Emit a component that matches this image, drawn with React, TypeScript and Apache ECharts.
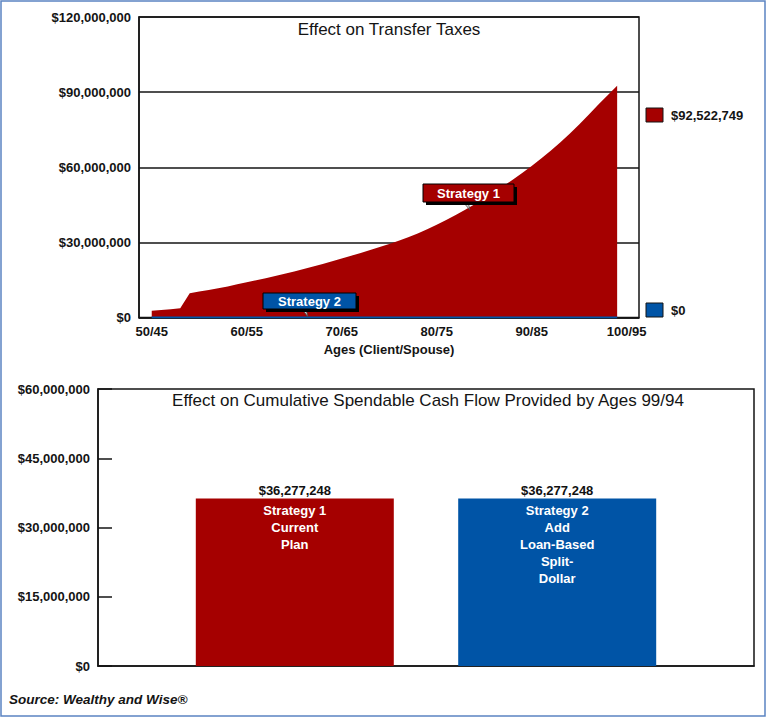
import React, { useEffect, useRef } from 'react';
import * as echarts from 'echarts';

// ---------- data ----------
const ages = [
  50, 51, 52, 53, 54, 55, 56, 57, 58, 59,
  60, 61, 62, 63, 64, 65, 66, 67, 68, 69,
  70, 71, 72, 73, 74, 75, 76, 77, 78, 79,
  80, 81, 82, 83, 84, 85, 86, 87, 88, 89,
  90, 91, 92, 93, 94, 95, 96, 97, 98, 99,
];
const strategy1Taxes = [
  2700000, 3000000, 3300000, 3700000, 9700000, 10400000, 11000000, 11700000, 12400000, 13300000,
  14100000, 14900000, 15700000, 16600000, 17500000, 18400000, 19400000, 20400000, 21400000, 22500000,
  23600000, 24700000, 25800000, 27000000, 28200000, 29400000, 30600000, 32000000, 33500000, 35200000,
  37000000, 38900000, 40900000, 43000000, 45200000, 47500000, 49900000, 52400000, 55000000, 57700000,
  60500000, 63500000, 66600000, 69900000, 73400000, 77100000, 81000000, 85000000, 88800000, 92522749,
];
const strategy2Taxes = [
  0, 0, 0, 0, 0, 0, 0, 0, 0, 0,
  0, 0, 0, 0, 0, 0, 0, 0, 0, 0,
  0, 0, 0, 0, 0, 0, 0, 0, 0, 0,
  0, 0, 0, 0, 0, 0, 0, 0, 0, 0,
  0, 0, 0, 0, 0, 0, 0, 0, 0, 0,
];
const ageTickValues = [50, 60, 70, 80, 90, 100];
const ageTickLabels = ['50/45', '60/55', '70/65', '80/75', '90/85', '100/95'];

const cashFlowPositions = [1, 2];
const cashFlowValues = [36277248, 36277248];
const cashFlowLabels = ['Strategy 1\nCurrent\nPlan', 'Strategy 2\nAdd\nLoan-Based\nSplit-\nDollar'];

const topTitle = 'Effect on Transfer Taxes';
const bottomTitle = 'Effect on Cumulative Spendable Cash Flow Provided by Ages 99/94';
const xAxisName = 'Ages (Client/Spouse)';
const sourceText = 'Source: Wealthy and Wise®';

// ---------- styles ----------
const FONT = '"Liberation Sans", Arial, Helvetica, sans-serif';
const RED = '#A50000';
const BLUE = '#0054A6';
const INK = '#141414';

const money = (v: number) => '$' + Math.round(v).toLocaleString('en-US');

export default function App() {
  const ref = useRef<HTMLDivElement>(null);

  useEffect(() => {
    document.body.style.margin = '0';
    if (!ref.current) return;
    const chart = echarts.init(ref.current, undefined, { renderer: 'svg' });

    const s1Final = strategy1Taxes[strategy1Taxes.length - 1];
    const s2Final = strategy2Taxes[strategy2Taxes.length - 1];

    const axisLabelStyle = {
      fontFamily: FONT,
      fontSize: 13,
      fontWeight: 'bold' as const,
      color: INK,
    };

    const option: any = {
      animation: false,
      backgroundColor: '#ffffff',
      grid: [
        {
          left: 139, top: 17, width: 500, height: 300.5,
          show: true, borderColor: INK, borderWidth: 1.5, backgroundColor: 'transparent',
          outerBoundsMode: 'none', containLabel: false,
        },
        {
          left: 98, top: 389, width: 656, height: 277,
          show: true, borderColor: INK, borderWidth: 1.5, backgroundColor: 'transparent',
          outerBoundsMode: 'none', containLabel: false,
        },
      ],
      xAxis: [
        {
          gridIndex: 0,
          type: 'value',
          min: 48.66,
          max: 101.3,
          axisLine: { show: true, lineStyle: { color: INK, width: 1.5 } },
          axisTick: { show: false },
          splitLine: { show: false },
          axisLabel: {
            ...axisLabelStyle,
            margin: 7,
            customValues: ageTickValues,
            formatter: (v: number) => {
              const i = ageTickValues.indexOf(Math.round(v));
              return i >= 0 ? ageTickLabels[i] : '';
            },
          },
          name: xAxisName,
          nameLocation: 'middle',
          nameGap: 25,
          nameTextStyle: { ...axisLabelStyle },
        },
        {
          gridIndex: 1,
          type: 'value',
          min: 0.25,
          max: 2.75,
          axisLine: { show: true, lineStyle: { color: INK, width: 1.5 } },
          axisTick: { show: false },
          axisLabel: { show: false },
          splitLine: { show: false },
        },
      ],
      yAxis: [
        {
          gridIndex: 0,
          type: 'value',
          min: 0,
          max: 120000000,
          interval: 30000000,
          axisLine: { show: true, lineStyle: { color: INK, width: 1.5 } },
          axisTick: { show: false },
          splitLine: { show: true, lineStyle: { color: INK, width: 1.5 } },
          axisLabel: { ...axisLabelStyle, margin: 8, padding: [6, 0, 0, 0], formatter: money },
        },
        {
          gridIndex: 1,
          type: 'value',
          min: 0,
          max: 60000000,
          interval: 15000000,
          axisLine: { show: true, lineStyle: { color: INK, width: 1.5 } },
          axisTick: { show: true, inside: true, length: 14, lineStyle: { color: INK, width: 1.5 } },
          splitLine: { show: false },
          axisLabel: { ...axisLabelStyle, margin: 8, padding: [0, 0, 6, 0], formatter: money },
        },
      ],
      series: [
        {
          name: 'Strategy 1',
          type: 'line',
          xAxisIndex: 0,
          yAxisIndex: 0,
          data: ages.map((a, i) => [a, strategy1Taxes[i]]),
          symbol: 'none',
          lineStyle: { width: 0, color: RED },
          areaStyle: { color: RED, opacity: 1 },
          z: 2,
        },
        {
          name: 'Strategy 2',
          type: 'line',
          xAxisIndex: 0,
          yAxisIndex: 0,
          data: ages.map((a, i) => [a, strategy2Taxes[i]]),
          symbol: 'none',
          lineStyle: { width: 2, color: BLUE },
          z: 3,
        },
        {
          name: 'Cash Flow',
          type: 'bar',
          xAxisIndex: 1,
          yAxisIndex: 1,
          barWidth: 198,
          barGap: '-100%',
          data: cashFlowPositions.map((p, i) => ({
            value: [p, cashFlowValues[i]],
            itemStyle: { color: i === 0 ? RED : BLUE },
          })),
          label: {
            show: true,
            position: 'insideTop',
            distance: 3,
            color: '#ffffff',
            fontFamily: FONT,
            fontSize: 13,
            fontWeight: 'bold',
            lineHeight: 17,
            formatter: (p: any) => cashFlowLabels[p.dataIndex],
          },
        },
        {
          name: 'Cash Flow Values',
          type: 'bar',
          xAxisIndex: 1,
          yAxisIndex: 1,
          barWidth: 198,
          barGap: '-100%',
          silent: true,
          data: cashFlowPositions.map((p, i) => [p, cashFlowValues[i]]),
          itemStyle: { color: 'rgba(0,0,0,0)' },
          label: {
            show: true,
            position: 'top',
            distance: 2,
            color: '#111111',
            opacity: 1,
            fontFamily: FONT,
            fontSize: 13,
            fontWeight: 'bold',
            formatter: (p: any) => money(cashFlowValues[p.dataIndex]),
          },
          z: 5,
        },
      ],
      graphic: [
        // titles
        {
          type: 'text', x: 389, y: 29, z: 20,
          style: { text: topTitle, fontFamily: FONT, fontSize: 17, fill: INK, align: 'center', verticalAlign: 'middle' },
        },
        {
          type: 'text', x: 428, y: 400, z: 20,
          style: { text: bottomTitle, fontFamily: FONT, fontSize: 17, fill: INK, align: 'center', verticalAlign: 'middle' },
        },
        // end-value legend
        {
          type: 'rect', z: 20, shape: { x: 646, y: 108, width: 17, height: 14 },
          style: { fill: RED, stroke: INK, lineWidth: 1 },
        },
        {
          type: 'text', x: 671, y: 115.5, z: 20,
          style: { text: money(s1Final), fontFamily: FONT, fontSize: 13, fontWeight: 'bold', fill: INK, align: 'left', verticalAlign: 'middle' },
        },
        {
          type: 'rect', z: 20, shape: { x: 646, y: 303, width: 17, height: 14 },
          style: { fill: BLUE, stroke: INK, lineWidth: 1 },
        },
        {
          type: 'text', x: 671, y: 310, z: 20,
          style: { text: money(s2Final), fontFamily: FONT, fontSize: 13, fontWeight: 'bold', fill: INK, align: 'left', verticalAlign: 'middle' },
        },
        // Strategy 1 callout
        {
          type: 'polygon', z: 20,
          shape: { points: [[463, 202], [468, 202], [470, 210]] },
          style: { fill: '#d8d8d8', stroke: '#444', lineWidth: 0.8 },
        },
        {
          type: 'rect', z: 20, shape: { x: 426, y: 187, width: 91, height: 18 },
          style: { fill: '#000' },
        },
        {
          type: 'rect', z: 21, shape: { x: 423, y: 184, width: 91, height: 18 },
          style: { fill: RED, stroke: '#000', lineWidth: 1 },
        },
        {
          type: 'text', x: 468.5, y: 193, z: 22,
          style: { text: 'Strategy 1', fontFamily: FONT, fontSize: 13, fontWeight: 'bold', fill: '#fff', align: 'center', verticalAlign: 'middle' },
        },
        // Strategy 2 callout
        {
          type: 'polygon', z: 20,
          shape: { points: [[302, 309], [306, 309], [308, 317]] },
          style: { fill: '#d8d8d8', stroke: '#444', lineWidth: 0.8 },
        },
        {
          type: 'rect', z: 20, shape: { x: 266, y: 296, width: 93, height: 16 },
          style: { fill: '#000' },
        },
        {
          type: 'rect', z: 21, shape: { x: 263, y: 293, width: 93, height: 16 },
          style: { fill: BLUE, stroke: '#000', lineWidth: 1 },
        },
        {
          type: 'text', x: 309.5, y: 301.5, z: 22,
          style: { text: 'Strategy 2', fontFamily: FONT, fontSize: 13, fontWeight: 'bold', fill: '#fff', align: 'center', verticalAlign: 'middle' },
        },
        // source
        {
          type: 'text', x: 9, y: 699, z: 20,
          style: { text: sourceText, fontFamily: FONT, fontSize: 13.5, fontWeight: 'bold', fontStyle: 'italic', fill: INK, align: 'left', verticalAlign: 'middle' },
        },
        // outer frame
        {
          type: 'rect', z: 30, shape: { x: 1, y: 1, width: 764, height: 715 },
          style: { fill: 'none', stroke: '#5B84C2', lineWidth: 1.5 },
        },
      ],
    };

    chart.setOption(option);
    return () => {
      chart.dispose();
    };
  }, []);

  return <div ref={ref} style={{ width: 769, height: 719 }} />;
}
